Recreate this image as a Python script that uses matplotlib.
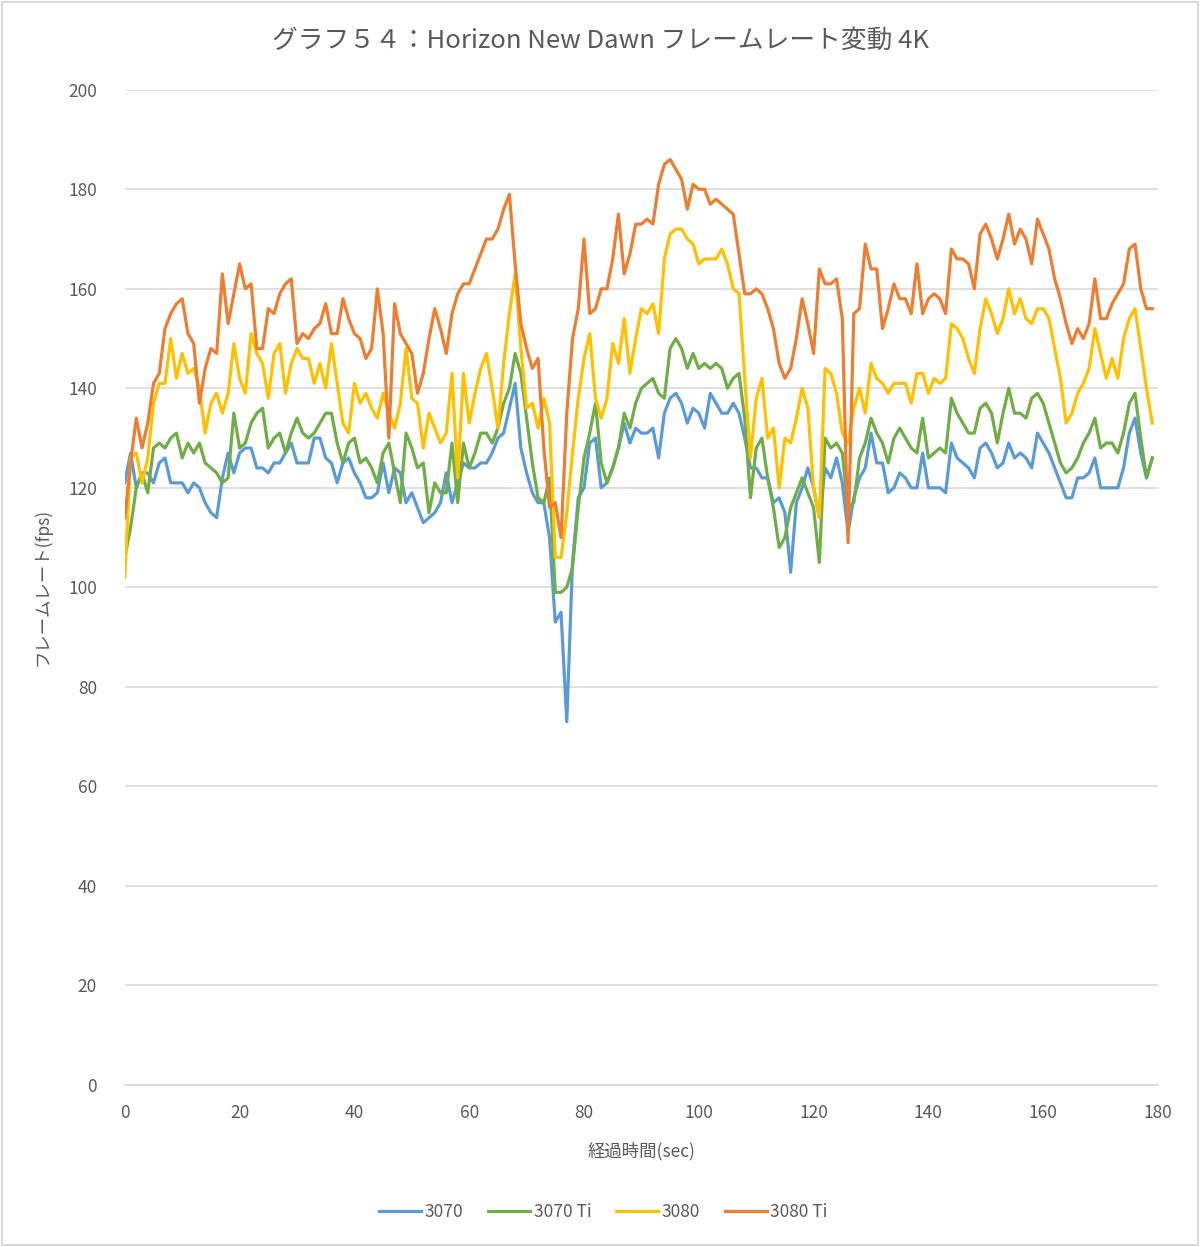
import matplotlib
matplotlib.use("Agg")
import matplotlib.pyplot as plt
import numpy as np

plt.rcParams['font.family'] = ['Noto Sans CJK JP', 'DejaVu Sans']

# elapsed seconds (one reading per second)
seconds = np.arange(180)

fps_3070 = [
    121, 127, 120, 123, 123, 121, 125, 126, 121, 121,
    121, 119, 121, 120, 117, 115, 114, 122, 127, 123,
    127, 128, 128, 124, 124, 123, 125, 125, 127, 129,
    125, 125, 125, 130, 130, 126, 125, 121, 125, 126,
    123, 121, 118, 118, 119, 125, 119, 124, 123, 117,
    119, 116, 113, 114, 115, 117, 123, 117, 121, 125,
    124, 124, 125, 125, 127, 130, 131, 136, 141, 128,
    123, 119, 117, 117, 110, 93, 95, 73, 105, 118,
    120, 129, 130, 120, 121, 124, 128, 133, 129, 132,
    131, 131, 132, 126, 135, 138, 139, 137, 133, 136,
    135, 132, 139, 137, 135, 135, 137, 135, 130, 124,
    124, 122, 122, 117, 118, 115, 103, 117, 120, 124,
    120, 114, 124, 122, 126, 121, 111, 118, 122, 124,
    131, 125, 125, 119, 120, 123, 122, 120, 120, 127,
    120, 120, 120, 119, 129, 126, 125, 124, 122, 128,
    129, 127, 124, 125, 129, 126, 127, 126, 124, 131,
    129, 127, 124, 121, 118, 118, 122, 122, 123, 126,
    120, 120, 120, 120, 124, 131, 134, 127, 122, 126,
]

fps_3070ti = [
    106, 112, 120, 123, 119, 128, 129, 128, 130, 131,
    126, 129, 127, 129, 125, 124, 123, 121, 122, 135,
    128, 129, 133, 135, 136, 128, 130, 131, 127, 131,
    134, 131, 130, 131, 133, 135, 135, 129, 125, 129,
    130, 125, 126, 124, 121, 127, 129, 123, 117, 131,
    128, 124, 125, 115, 121, 119, 119, 129, 117, 129,
    124, 127, 131, 131, 129, 132, 137, 140, 147, 143,
    134, 125, 118, 117, 122, 99, 99, 100, 104, 116,
    126, 131, 137, 125, 121, 124, 128, 135, 132, 137,
    140, 141, 142, 139, 138, 148, 150, 148, 144, 147,
    144, 145, 144, 145, 144, 140, 142, 143, 134, 118,
    128, 130, 122, 116, 108, 110, 116, 119, 122, 119,
    116, 105, 130, 128, 129, 127, 116, 117, 126, 129,
    134, 131, 129, 125, 130, 132, 130, 128, 127, 134,
    126, 127, 128, 127, 138, 135, 133, 131, 131, 136,
    137, 135, 129, 135, 140, 135, 135, 134, 138, 139,
    137, 133, 129, 125, 123, 124, 126, 129, 131, 134,
    128, 129, 129, 127, 131, 137, 139, 130, 122, 126,
]

fps_3080 = [
    102, 126, 127, 121, 126, 137, 141, 141, 150, 142,
    147, 143, 144, 140, 131, 137, 139, 135, 139, 149,
    142, 139, 151, 147, 145, 138, 147, 149, 139, 145,
    148, 146, 146, 141, 145, 140, 149, 141, 133, 131,
    141, 137, 139, 136, 134, 139, 135, 132, 137, 148,
    138, 137, 128, 135, 132, 129, 131, 143, 122, 143,
    133, 139, 144, 147, 140, 132, 145, 155, 163, 148,
    136, 137, 132, 138, 133, 106, 106, 115, 127, 138,
    146, 151, 138, 134, 138, 149, 145, 154, 143, 150,
    156, 155, 157, 151, 166, 171, 172, 172, 170, 169,
    165, 166, 166, 166, 168, 165, 160, 159, 142, 126,
    138, 142, 130, 132, 120, 130, 129, 134, 140, 136,
    120, 114, 144, 143, 139, 131, 129, 136, 140, 135,
    145, 142, 141, 139, 141, 141, 141, 137, 143, 143,
    139, 142, 141, 142, 153, 152, 150, 146, 143, 152,
    158, 155, 151, 154, 160, 155, 158, 154, 153, 156,
    156, 154, 148, 142, 133, 135, 139, 141, 144, 152,
    147, 142, 146, 142, 150, 154, 156, 148, 140, 133,
]

fps_3080ti = [
    114, 125, 134, 128, 133, 141, 143, 152, 155, 157,
    158, 151, 149, 137, 144, 148, 147, 163, 153, 159,
    165, 160, 161, 148, 148, 156, 155, 159, 161, 162,
    149, 151, 150, 152, 153, 157, 151, 151, 158, 154,
    151, 150, 146, 148, 160, 151, 130, 157, 151, 149,
    147, 139, 143, 150, 156, 152, 147, 155, 159, 161,
    161, 164, 167, 170, 170, 172, 176, 179, 165, 153,
    148, 144, 146, 128, 116, 117, 110, 135, 150, 156,
    170, 155, 156, 160, 160, 166, 175, 163, 167, 173,
    173, 174, 173, 181, 185, 186, 184, 182, 176, 181,
    180, 180, 177, 178, 177, 176, 175, 167, 159, 159,
    160, 159, 156, 152, 145, 142, 144, 150, 158, 153,
    147, 164, 161, 161, 162, 154, 109, 155, 156, 169,
    164, 164, 152, 156, 161, 158, 158, 155, 165, 155,
    158, 159, 158, 155, 168, 166, 166, 165, 160, 171,
    173, 170, 166, 170, 175, 169, 172, 170, 165, 174,
    171, 168, 162, 158, 153, 149, 152, 150, 153, 162,
    154, 154, 157, 159, 161, 168, 169, 160, 156, 156,
]

series = [
    ("3070", fps_3070, "#5B9BD5"),
    ("3070 Ti", fps_3070ti, "#70AD47"),
    ("3080", fps_3080, "#FFC000"),
    ("3080 Ti", fps_3080ti, "#ED7D31"),
]

text_color = "#595959"

fig = plt.figure(figsize=(12, 12.47), dpi=100)
ax = fig.add_axes([0.104, 0.13, 0.861, 0.798])

for label, values, color in series:
    ax.plot(seconds, values, color=color, linewidth=2.3, label=label)

ax.set_xlim(0, 180)
ax.set_ylim(0, 200)
ax.set_xticks(np.arange(0, 181, 20))
ax.set_yticks(np.arange(0, 201, 20))
ax.grid(axis="y", color="#D9D9D9", linewidth=1.2)
ax.set_axisbelow(True)
for side in ["top", "right", "left"]:
    ax.spines[side].set_visible(False)
ax.spines["bottom"].set_color("#D9D9D9")
ax.spines["bottom"].set_linewidth(1.2)
ax.tick_params(length=0, labelsize=12.5, colors=text_color, pad=14)
ax.tick_params(axis="y", pad=20)

ax.set_xlabel("経過時間(sec)", fontsize=12.5, color=text_color, labelpad=14)
ax.set_ylabel("フレームレート(fps)", fontsize=12.5, color=text_color, labelpad=12)

fig.suptitle("グラフ５４：Horizon New Dawn フレームレート変動 4K",
             fontsize=18.5, color=text_color, y=0.978)

fig.legend(loc="center", bbox_to_anchor=(0.503, 0.028), ncol=4, frameon=False,
           fontsize=12.5, labelcolor=text_color, handlelength=2.4,
           handletextpad=0.2, columnspacing=1.45)

# light border round the whole chart
fig.patches.append(plt.Rectangle((0.002, 0.002), 0.996, 0.996, transform=fig.transFigure,
                                 fill=False, edgecolor="#D9D9D9", linewidth=1.5))

fig.savefig("out.png", dpi=100)
